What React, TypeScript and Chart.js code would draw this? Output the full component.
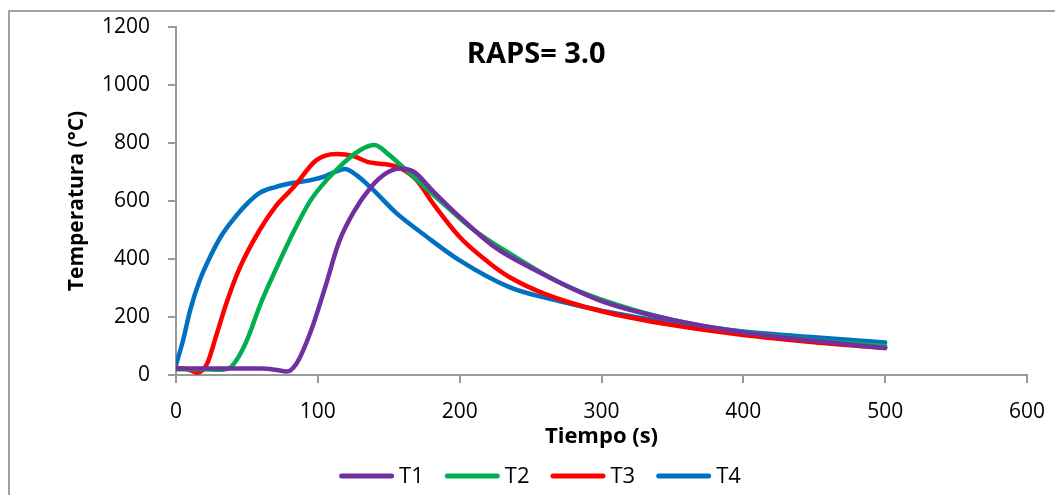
import React, { useEffect, useRef } from "react";
import { Chart, registerables } from "chart.js";

Chart.register(...registerables);

const seriesNames = ["T1", "T2", "T3", "T4"];
const seriesColors = ["#7030A0", "#00B050", "#FF0000", "#0070C0"];

const t1Time = [0, 20, 40, 60, 70, 78, 85, 95, 105, 115, 125, 137, 148, 158, 168, 180, 200, 225, 250, 300, 350, 400, 450, 500];
const t1Temp = [22, 22, 22, 22, 18, 12, 40, 150, 300, 460, 560, 645, 695, 712, 700, 640, 545, 440, 370, 255, 190, 147, 118, 93];

const t2Time = [0, 20, 30, 38, 45, 50, 60, 70, 80, 95, 113, 130, 140, 150, 160, 175, 191, 210, 235, 270, 300, 350, 400, 450, 500];
const t2Temp = [20, 20, 18, 25, 70, 120, 250, 360, 465, 603, 707, 776, 793, 760, 717, 650, 580, 500, 420, 320, 260, 190, 148, 120, 100];

const t3Time = [0, 8, 15, 22, 28, 35, 45, 59, 70, 83, 99, 113, 125, 135, 142, 150, 158, 170, 181, 200, 220, 235, 260, 300, 350, 400, 450, 500];
const t3Temp = [25, 20, 8, 40, 130, 240, 370, 500, 580, 648, 741, 762, 755, 735, 729, 725, 714, 670, 593, 476, 390, 338, 280, 220, 172, 138, 113, 93];

const t4Time = [0, 5, 10, 17, 24, 32, 40, 50, 59, 70, 82, 95, 105, 112, 119, 127, 139, 155, 177, 200, 235, 270, 300, 350, 400, 450, 500];
const t4Temp = [35, 120, 224, 330, 407, 480, 534, 590, 628, 648, 662, 672, 685, 700, 710, 690, 638, 560, 476, 395, 303, 255, 222, 180, 150, 130, 112];

const xTicks = [0, 100, 200, 300, 400, 500, 600];
const yTicks = [0, 200, 400, 600, 800, 1000, 1200];

const chartTitle = "RAPS= 3.0";
const titleAt = { x: 254, y: 1103 };

const FONT = "'Open Sans', 'DejaVu Sans', sans-serif";

const titlePlugin = {
  id: "insideTitle",
  afterDraw(chart: any) {
    const { ctx, scales } = chart;
    const px = scales.x.getPixelForValue(titleAt.x);
    const py = scales.y.getPixelForValue(titleAt.y);
    ctx.save();
    ctx.font = `bold 29px ${FONT}`;
    ctx.fillStyle = "#000";
    ctx.textAlign = "center";
    ctx.textBaseline = "middle";
    ctx.fillText(chartTitle, px, py);
    ctx.restore();
  },
};

// Excel-style legend: long round-capped line swatch, small gap, label
const legendPlugin = {
  id: "lineLegend",
  afterDraw(chart: any) {
    const { ctx } = chart;
    const lineLen = 55;
    const gap = 5;
    const itemGap = 21;
    const centerX = 540;
    const y = 476;
    ctx.save();
    ctx.font = `22px ${FONT}`;
    const items = chart.data.datasets.map((d: any) => ({
      label: d.label,
      color: d.borderColor,
      w: lineLen + gap + ctx.measureText(d.label).width,
    }));
    const total = items.reduce((a: number, it: any) => a + it.w, 0) + itemGap * (items.length - 1);
    let x = centerX - total / 2;
    for (const it of items) {
      ctx.strokeStyle = it.color;
      ctx.lineWidth = 5;
      ctx.lineCap = "round";
      ctx.beginPath();
      ctx.moveTo(x + 2.5, y);
      ctx.lineTo(x + lineLen - 2.5, y);
      ctx.stroke();
      ctx.fillStyle = "#000";
      ctx.textAlign = "left";
      ctx.textBaseline = "middle";
      ctx.fillText(it.label, x + lineLen + gap, y + 1);
      x += it.w + itemGap;
    }
    ctx.restore();
  },
};

export default function App() {
  const ref = useRef<HTMLCanvasElement | null>(null);

  useEffect(() => {
    if (!ref.current) return;
    const series = [
      [t1Time, t1Temp],
      [t2Time, t2Temp],
      [t3Time, t3Temp],
      [t4Time, t4Temp],
    ];
    const chart = new Chart(ref.current, {
      type: "line",
      data: {
        datasets: series.map(([xs, ys], i) => ({
          label: seriesNames[i],
          data: xs.map((x, j) => ({ x, y: ys[j] })),
          borderColor: seriesColors[i],
          backgroundColor: seriesColors[i],
          borderWidth: 4.5,
          borderCapStyle: "round" as const,
          pointRadius: 0,
          tension: 0.4,
          cubicInterpolationMode: "monotone" as const,
          fill: false,
        })),
      },
      options: {
        animation: false,
        responsive: false,
        maintainAspectRatio: false,
        layout: { padding: { left: 61, right: 28, top: 27, bottom: 43 } },
        plugins: {
          legend: { display: false },
          tooltip: { enabled: false },
        },
        scales: {
          x: {
            type: "linear",
            min: 0,
            max: 600,
            afterBuildTicks: (s: any) => {
              s.ticks = xTicks.map((v) => ({ value: v }));
            },
            afterFit: (s: any) => {
              s.height = 77;
              s.paddingLeft = 0;
              s.paddingRight = 0;
            },
            border: { color: "#999", width: 2 },
            grid: { drawOnChartArea: false, tickLength: 8, color: "#999", lineWidth: 2 },
            ticks: {
              font: { family: FONT, size: 21 },
              color: "#000",
              padding: 16,
              maxRotation: 0,
              callback: (v: any) => String(v),
            },
            title: {
              display: true,
              text: "Tiempo (s)",
              font: { family: FONT, size: 22, weight: "bold" },
              color: "#000",
              padding: { top: 0, bottom: 2 },
            },
          },
          y: {
            type: "linear",
            min: 0,
            max: 1200,
            afterBuildTicks: (s: any) => {
              s.ticks = yTicks.map((v) => ({ value: v }));
            },
            afterFit: (s: any) => {
              s.width = 176 - 61;
              s.paddingTop = 0;
              s.paddingBottom = 0;
            },
            border: { color: "#999", width: 2 },
            grid: { drawOnChartArea: false, tickLength: 8, color: "#999", lineWidth: 2 },
            ticks: {
              font: { family: FONT, size: 21 },
              color: "#000",
              padding: 18,
              callback: (v: any) => String(v),
            },
            title: {
              display: true,
              text: "Temperatura (°C)",
              font: { family: FONT, size: 21, weight: "bold" },
              color: "#000",
              padding: { top: 3, bottom: 0 },
            },
          },
        },
      },
      plugins: [titlePlugin, legendPlugin],
    });
    return () => chart.destroy();
  }, []);

  return (
    <div
      style={{
        position: "absolute",
        left: 0,
        top: 0,
        width: 1055,
        height: 495,
        overflow: "hidden",
        background: "#fff",
      }}
    >
      <div
        style={{
          position: "absolute",
          left: 8,
          top: 10,
          width: 1100,
          height: 600,
          borderTop: "2px solid #a0a0a0",
          borderLeft: "2px solid #a0a0a0",
        }}
      />
      <canvas ref={ref} width={1055} height={495} style={{ position: "absolute", left: 0, top: 0 }} />
    </div>
  );
}
